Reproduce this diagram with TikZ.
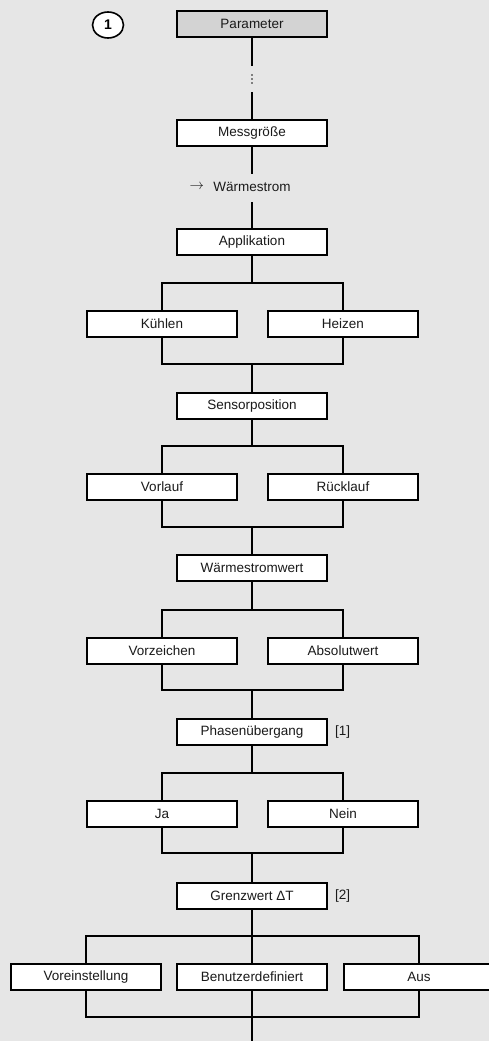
\documentclass[tikz,border=0pt]{standalone}
\usepackage{fontspec}
\setmainfont{Liberation Sans}
\usetikzlibrary{shapes.geometric}
\definecolor{bgcol}{HTML}{E6E6E6}
\definecolor{parcol}{HTML}{D3D3D3}
\definecolor{txtcol}{HTML}{1A1A1A}
\definecolor{dotcol}{HTML}{7F7F7F}
\begin{document}
\begin{tikzpicture}[x=1pt,y=-1pt,
  box/.style={draw, line width=2pt, fill=white, minimum width=150pt, minimum height=26pt, inner sep=0pt, text=txtcol, font=\fontsize{13.5}{16}\selectfont},
  conn/.style={line width=2pt, line join=miter},
  lbl/.style={inner sep=0pt, text=txtcol, font=\fontsize{13.5}{16}\selectfont},
  circ/.style={draw, ellipse, line width=1.6pt, fill=white, minimum width=31pt, minimum height=26pt, inner sep=0pt, font=\fontsize{14}{16}\selectfont\bfseries}]
\fill[bgcol] (0,0) rectangle (489,1041);
\useasboundingbox (0,0) rectangle (489,1041);

% nodes
\node[circ] (one) at (108,25) {1};
\node[box, fill=parcol] (par) at (252,24) {Parameter};
\node[box] (mess) at (252,133) {Messgröße};
\node[lbl] (wtxt) at (252,187) {Wärmestrom};
\node[lbl, anchor=east] (warr) at ([xshift=-9pt]wtxt.west) {$\rightarrow$};
\node[box] (app) at (252,242) {Applikation};
\node[box] (kuehl) at (162,324) {Kühlen};
\node[box] (heiz) at (343,324) {Heizen};
\node[box] (sens) at (252,406) {Sensorposition};
\node[box] (vorl) at (162,487) {Vorlauf};
\node[box] (rueck) at (343,487) {Rücklauf};
\node[box] (wwert) at (252,568) {Wärmestromwert};
\node[box] (vorz) at (162,651) {Vorzeichen};
\node[box] (abs) at (343,651) {Absolutwert};
\node[box] (phase) at (252,732) {Phasenübergang};
\node[lbl, anchor=west] (ref1) at (335,732) {[1]};
\node[box] (ja) at (162,814) {Ja};
\node[box] (nein) at (343,814) {Nein};
\node[box] (grenz) at (252,896) {Grenzwert ΔT};
\node[lbl, anchor=west] (ref2) at (335,896) {[2]};
\node[box] (vore) at (86,977) {Voreinstellung};
\node[box] (benu) at (252,977) {Benutzerdefiniert};
\node[box] (aus) at (419,977) {Aus};

% coordinates
\coordinate (dtop) at (252,66);
\coordinate (dbot) at (252,92);
\coordinate (wtop) at (252,174);
\coordinate (wbot) at (252,202);
\coordinate (b1) at (252,283);
\coordinate (m1) at (252,364);
\coordinate (b2) at (252,446);
\coordinate (m2) at (252,527);
\coordinate (b3) at (252,610);
\coordinate (m3) at (252,690);
\coordinate (b4) at (252,773);
\coordinate (m4) at (252,853);
\coordinate (b5) at (252,936);
\coordinate (m5) at (252,1017);
\coordinate (fin) at (252,1045);

% connectors
\draw[conn] (par) -- (dtop);
\foreach \yy in {75,79,83} \fill[dotcol] (250.5,\yy-1) rectangle (252.5,\yy+1);
\draw[conn] (dbot) -- (mess);
\draw[conn] (mess) -- (wtop);
\draw[conn] (wbot) -- (app);

\draw[conn] (app) -- (b1);
\draw[conn] (kuehl.north) |- (b1) -| (heiz.north);
\draw[conn] (kuehl.south) |- (m1) -| (heiz.south);
\draw[conn] (m1) -- (sens);

\draw[conn] (sens) -- (b2);
\draw[conn] (vorl.north) |- (b2) -| (rueck.north);
\draw[conn] (vorl.south) |- (m2) -| (rueck.south);
\draw[conn] (m2) -- (wwert);

\draw[conn] (wwert) -- (b3);
\draw[conn] (vorz.north) |- (b3) -| (abs.north);
\draw[conn] (vorz.south) |- (m3) -| (abs.south);
\draw[conn] (m3) -- (phase);

\draw[conn] (phase) -- (b4);
\draw[conn] (ja.north) |- (b4) -| (nein.north);
\draw[conn] (ja.south) |- (m4) -| (nein.south);
\draw[conn] (m4) -- (grenz);

\draw[conn] (grenz) -- (benu);
\draw[conn] (vore.north) |- (b5) -| (aus.north);
\draw[conn] (vore.south) |- (m5) -| (aus.south);
\draw[conn] (benu) -- (m5) -- (fin);
\end{tikzpicture}
\end{document}
